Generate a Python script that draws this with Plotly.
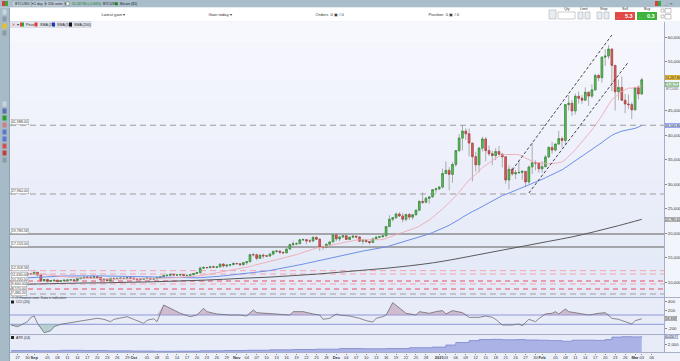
import plotly.graph_objects as go
import pandas as pd

# ---------------- DATA ----------------
start_date = "2020-08-26"
first_open = 11366
closes = [
    11478, 11324, 11543, 11507, 11712, 11680,
    11970, 11415, 10245, 10512, 10169, 10281, 10370, 10131, 10242, 10363, 10400, 10442, 10324, 10680, 10796,
    10974, 10948, 10944, 11094, 10938, 10462, 10538, 10246, 10760, 10692, 10750, 10775, 10709, 10844, 10785,
    10620, 10585, 10566, 10680, 10797, 10603, 10668, 10915, 11065, 11297, 11385, 11555, 11426, 11430, 11505,
    11323, 11359, 11484, 11742, 11917, 12823, 12965, 12931, 13108, 13031, 13075, 13654, 13272, 13437, 13546, 13781,
    13737, 13550, 13950, 14133, 15579, 15565, 14833, 15479, 15332, 15290, 15701, 16276, 16317, 16068, 15955,
    16716, 17645, 17804, 17817, 18621, 18642, 18370, 18364, 19107, 18732, 17150, 17108, 17718, 18177, 19625,
    18802, 19201, 19445, 18699, 19154, 19345, 19191, 18321, 18553, 18264, 18058, 18803, 19142, 19246, 19417,
    21310, 22805, 23137, 23869, 23477, 22803, 23783, 23241, 23735, 24664, 26437, 26272, 27084, 27362, 28841, 29002,
    29374, 32127, 32782, 31971, 33992, 36824, 39371, 40797, 40254, 38356, 35566, 33922, 37316, 39187, 36825,
    36178, 35792, 36630, 36070, 35547, 30826, 33005, 32067, 32289, 32366, 32569, 30433, 33467, 34317, 34270, 33114,
    33538, 35510, 37473, 36926, 38144, 39266, 38903, 46196, 46481, 44919, 47910, 47505, 47106, 48717,
    47945, 49199, 52149, 51679, 55889, 56100, 57540, 54208, 48825, 49706, 47094, 46339, 46189, 45138,
    49631, 48378, 51268,
]
highs = [
    11530, 11570, 11545, 11600, 11720, 11770,
    12070, 11980, 11450, 10600, 10570, 10350, 10400, 10430, 10350, 10480, 10400, 10470, 10460, 10750, 10900,
    11050, 11040, 11030, 11150, 11110, 10990, 10560, 10540, 10790, 10770, 10780, 10800, 10950, 10860, 10850,
    10900, 10630, 10600, 10690, 10800, 10800, 10680, 10940, 11100, 11470, 11430, 11700, 11560, 11550, 11540,
    11530, 11380, 11490, 11800, 12000, 13180, 13200, 13020, 13150, 13330, 13240, 13760, 13840, 13610, 13650, 14030,
    13860, 13810, 14070, 14230, 15740, 15950, 15770, 15650, 15790, 15460, 15950, 16320, 16480, 16320, 16120,
    16840, 17800, 18390, 18100, 18800, 18910, 18680, 18750, 19350, 19400, 18900, 17420, 17840, 18280, 19800,
    19920, 19300, 19560, 19500, 19160, 19400, 19390, 19280, 18630, 18560, 18270, 18930, 19380, 19300, 19530,
    21460, 23640, 23240, 24170, 24260, 24060, 23820, 24080, 23770, 24710, 26720, 28290, 27390, 27370, 28940, 29240,
    29600, 33150, 34600, 33440, 34440, 36880, 40180, 41950, 41380, 41340, 38350, 36600, 37600, 39670, 39580,
    37850, 36800, 37300, 37760, 36350, 35550, 33790, 33420, 32900, 34800, 32850, 32550, 33780, 38410, 34830, 34290,
    34640, 35900, 37660, 38590, 38250, 40850, 39700, 46200, 48140, 47150, 48460, 48870, 48140, 49700,
    48880, 50340, 52530, 52500, 56080, 57500, 58350, 57600, 54250, 51290, 51950, 48370, 48250, 46710,
    49780, 50130, 51700,
]
lows = [
    11287, 11185, 11290, 11450, 11480, 11600,
    11660, 11230, 10180, 10040, 9900, 10070, 9980, 9900, 10000, 10200, 10200, 10350, 10250, 10300, 10650,
    10670, 10800, 10820, 10900, 10800, 10380, 10400, 10200, 10210, 10600, 10670, 10650, 10680, 10650, 10700,
    10550, 10420, 10530, 10530, 10620, 10530, 10570, 10560, 10850, 11050, 11280, 11200, 11300, 11300, 11280,
    11230, 11290, 11350, 11420, 11690, 11900, 12700, 12750, 12900, 12900, 12800, 13060, 12950, 12980, 13130, 13460,
    13620, 13250, 13300, 13530, 14100, 15200, 14420, 14740, 14800, 15080, 15270, 15450, 15950, 15710, 15800,
    15900, 16570, 17340, 17510, 17760, 18440, 17700, 18020, 18150, 18570, 16350, 16530, 16880, 17570, 18170,
    18330, 18350, 18960, 18620, 18600, 18930, 18900, 18260, 17650, 17960, 17620, 18010, 18740, 19000, 19080,
    19300, 21230, 22350, 22830, 23250, 22160, 22350, 22720, 22700, 23460, 24520, 25920, 26100, 25990, 27240, 28200,
    28800, 29090, 32050, 28720, 30220, 33510, 36490, 36830, 38980, 35630, 30550, 32530, 32380, 36610, 34660,
    35710, 33850, 34880, 35900, 33400, 30070, 28950, 31680, 30990, 32090, 30840, 29370, 30020, 32060, 32810, 32300,
    32300, 33420, 35360, 36170, 36660, 38140, 37450, 38080, 45000, 43880, 44190, 46420, 46350, 47050,
    45960, 47530, 49070, 50970, 50700, 54100, 55500, 48970, 45000, 47100, 47090, 44450, 45300, 43240,
    45050, 47250, 48150,
]
# closes before the visible window (for the 20/50-day averages)
prior_start = "2020-07-07"
prior_closes = [
    9252, 9428, 9277, 9278, 9240, 9276, 9243, 9243, 9192, 9132, 9151, 9159, 9186, 9165, 9374, 9525, 9581, 9536,
    9677, 9905, 10990, 10913, 11100, 11111, 11323,
    11759, 11053, 11247, 11205, 11747, 11779, 11601, 11754, 11675, 11878, 11411, 11584, 11784, 11769, 11865,
    11893, 12254, 11991, 11758, 11878, 11592, 11681, 11665, 11774, 11366,
]
sma200_dates = ["2020-08-26", "2020-09-02", "2020-09-09", "2020-09-16", "2020-09-23", "2020-09-30",
                "2020-10-07", "2020-10-14", "2020-10-21", "2020-10-28", "2020-11-04", "2020-11-11",
                "2020-11-18", "2020-11-25", "2020-12-02", "2020-12-09", "2020-12-16", "2020-12-23",
                "2020-12-30", "2021-01-06", "2021-01-13", "2021-01-20", "2021-01-27", "2021-02-03",
                "2021-02-10", "2021-02-17", "2021-02-24", "2021-03-03"]
sma200_values = [9500, 9600, 9700, 9800, 9850, 9950, 10050, 10200, 10350, 10550, 10800, 11000, 11300, 11600,
                 12000, 12400, 12800, 13300, 13900, 14700, 15600, 16500, 17400, 18300, 19200, 20300, 21500, 22786]

cci_dates = ["2020-08-25", "2020-08-27", "2020-08-28", "2020-08-30", "2020-08-31", "2020-09-01", "2020-09-02",
             "2020-09-03", "2020-09-04", "2020-09-06", "2020-09-07", "2020-09-09", "2020-09-12", "2020-09-15",
             "2020-09-18", "2020-09-20", "2020-09-22", "2020-09-24", "2020-09-25", "2020-09-29", "2020-10-01",
             "2020-10-04", "2020-10-05", "2020-10-07", "2020-10-08", "2020-10-10", "2020-10-15", "2020-10-18",
             "2020-10-20", "2020-10-22", "2020-10-23", "2020-10-26", "2020-10-30", "2020-11-02", "2020-11-04",
             "2020-11-06", "2020-11-07", "2020-11-10", "2020-11-14", "2020-11-17", "2020-11-18", "2020-11-21",
             "2020-11-24", "2020-11-26", "2020-11-27", "2020-11-29", "2020-12-01", "2020-12-02", "2020-12-05",
             "2020-12-08", "2020-12-10", "2020-12-12", "2020-12-13", "2020-12-15", "2020-12-16", "2020-12-18",
             "2020-12-22", "2020-12-24", "2020-12-25", "2020-12-26", "2020-12-29", "2020-12-31", "2021-01-02",
             "2021-01-03", "2021-01-05", "2021-01-08", "2021-01-10", "2021-01-13", "2021-01-15", "2021-01-17",
             "2021-01-18", "2021-01-20", "2021-01-23", "2021-01-25", "2021-01-26", "2021-01-28", "2021-01-30",
             "2021-01-31", "2021-02-02", "2021-02-04", "2021-02-05", "2021-02-06", "2021-02-08", "2021-02-09",
             "2021-02-11", "2021-02-14", "2021-02-15", "2021-02-18", "2021-02-20", "2021-02-22", "2021-02-24",
             "2021-02-26", "2021-02-28", "2021-03-01", "2021-03-03"]
cci_values = [-115, -150, -115, -43, 50, 78, -80, -186, -280, -237, -150, -100, -65, -29, 7, 29, 7, -43, 7, 64,
              7, -80, -14, 20, -43, 315, 136, 64, 100, 243, 172, 122, 100, 100, 78, 208, 150, 136, 122, 100,
              172, 172, 122, 100, 7, 29, 122, 100, 78, 29, -22, -50, 29, 64, 100, 365, 136, 122, 100, 172,
              136, 172, 194, 122, 194, 150, 50, 50, 78, 50, 7, -115, -115, -93, -130, 7, -43, 22, 122, 136,
              172, 122, 229, 172, 150, 122, 100, 136, 150, 29, 7, -43, -93, -22, 18]

atr_dates = ["2020-08-25", "2020-09-02", "2020-09-09", "2020-09-16", "2020-09-23", "2020-09-30", "2020-10-07",
             "2020-10-14", "2020-10-21", "2020-10-28", "2020-11-04", "2020-11-11", "2020-11-18", "2020-11-25",
             "2020-12-02", "2020-12-09", "2020-12-16", "2020-12-23", "2020-12-30", "2021-01-03", "2021-01-06",
             "2021-01-10", "2021-01-13", "2021-01-17", "2021-01-20", "2021-01-24", "2021-01-27", "2021-01-31",
             "2021-02-03", "2021-02-07", "2021-02-10", "2021-02-14", "2021-02-17", "2021-02-20", "2021-02-22",
             "2021-02-25", "2021-02-28", "2021-03-03"]
atr_values = [450, 430, 520, 470, 400, 360, 300, 330, 420, 480, 540, 640, 720, 800, 950, 900, 950, 1150, 1300,
              1800, 2400, 2850, 3100, 3150, 3050, 3100, 3000, 2950, 2850, 2700, 2950, 2950, 2900, 3100, 3700,
              3800, 3750, 4000]

channel_upper_dates = ["2021-01-23", "2021-02-22"]
channel_upper_values = [32860, 60400]
channel_lower_dates = ["2021-01-28", "2021-02-27"]
channel_lower_values = [28160, 54900]

level_values = [41988, 27960, 19790, 17150, 12318, 11630, 10200, 9600, 8570, 7550]
level_labels = ["41,988.00", "27,960.00", "19,783.58", "17,153.00", "12,318.58", "11,630.00",
                "10,200.00", "9,600.00", "8,570.00", "7,480.20"]
level_kinds = ["gray", "gray", "solid", "solid", "pink", "pink", "red", "pink", "red", "gray"]

tick_dates = ["2020-08-27", "2020-08-30",
              "2020-09-01", "2020-09-05", "2020-09-08", "2020-09-11", "2020-09-14", "2020-09-17", "2020-09-20",
              "2020-09-23", "2020-09-26", "2020-09-29",
              "2020-10-01", "2020-10-05", "2020-10-08", "2020-10-11", "2020-10-14", "2020-10-17", "2020-10-20",
              "2020-10-23", "2020-10-26", "2020-10-29",
              "2020-11-01", "2020-11-04", "2020-11-07", "2020-11-10", "2020-11-13", "2020-11-16", "2020-11-19",
              "2020-11-22", "2020-11-25", "2020-11-28",
              "2020-12-01", "2020-12-04", "2020-12-07", "2020-12-10", "2020-12-13", "2020-12-16", "2020-12-19",
              "2020-12-22", "2020-12-25", "2020-12-28",
              "2021-01-01", "2021-01-03", "2021-01-06", "2021-01-09", "2021-01-12", "2021-01-15", "2021-01-18",
              "2021-01-21", "2021-01-24", "2021-01-27", "2021-01-30",
              "2021-02-01", "2021-02-05", "2021-02-08", "2021-02-11", "2021-02-14", "2021-02-17", "2021-02-20",
              "2021-02-23", "2021-02-26",
              "2021-03-01", "2021-03-03", "2021-03-06"]
tick_labels = ["27", "30",
               "<b>Sep</b>", "05", "08", "11", "14", "17", "20", "23", "26", "29",
               "<b>Oct</b>", "05", "08", "11", "14", "17", "20", "23", "26", "29",
               "<b>Nov</b>", "04", "07", "10", "13", "16", "19", "22", "25", "28",
               "<b>Dec</b>", "04", "07", "10", "13", "16", "19", "22", "25", "28",
               "<b>2021</b>", "03", "06", "09", "12", "15", "18", "21", "24", "27", "30",
               "<b>Feb</b>", "05", "08", "11", "14", "17", "20", "23", "26",
               "<b>Mar</b>", "03", "06"]

# 50,000 is hidden behind the live-price boxes in the reference
price_ticks = [10000, 15000, 20000, 25000, 30000, 35000, 40000, 45000, 55000, 60000]
cci_ticks = [400, 200, -200]
atr_ticks = [2000]

# ---------------- GEOMETRY HELPERS ----------------
W, H = 680, 361
def px(x):
    return x / W
def py(y):
    return 1 - y / H

FONT = "Liberation Sans, Arial, sans-serif"
shapes = []
annotations = []

def rect(x0, y0, x1, y1, fill, line_color=None, lw=0, layer="above"):
    shapes.append(dict(type="rect", xref="paper", yref="paper", x0=px(x0), x1=px(x1),
                       y0=py(y1), y1=py(y0), fillcolor=fill,
                       line=dict(color=line_color or fill, width=lw), layer=layer))

def hline_px(x0, x1, y, color, width=1, dash="solid", layer="above"):
    shapes.append(dict(type="line", xref="paper", yref="paper", x0=px(x0), x1=px(x1),
                       y0=py(y), y1=py(y), line=dict(color=color, width=width, dash=dash), layer=layer))

def text(x, y, s, size=4.5, color="#333", xanchor="left", bg=None, border=None, pad=0.5):
    a = dict(xref="paper", yref="paper", x=px(x), y=py(y), text=s, showarrow=False,
             xanchor=xanchor, yanchor="middle", font=dict(family=FONT, size=size, color=color),
             borderpad=pad)
    if bg:
        a["bgcolor"] = bg
    if border:
        a["bordercolor"] = border
        a["borderwidth"] = 0.5
    annotations.append(a)

# ---------------- TRACES ----------------
dates = pd.date_range(start_date, periods=len(closes), freq="D")
opens = [first_open] + closes[:-1]
body_hi = [max(o, c) for o, c in zip(opens, closes)]
body_lo = [min(o, c) for o, c in zip(opens, closes)]

all_closes = pd.Series(prior_closes + closes,
                       index=pd.date_range(prior_start, periods=len(prior_closes) + len(closes), freq="D"))
sma20 = all_closes.rolling(20).mean().loc[dates]
sma50 = all_closes.rolling(50).mean().loc[dates]

fig = go.Figure()

fig.add_trace(go.Scatter(x=sma200_dates, y=sma200_values, mode="lines", line=dict(color="#5a5a5a", width=1),
                         line_shape="spline", hoverinfo="skip"))
fig.add_trace(go.Scatter(x=dates, y=sma50, mode="lines", line=dict(color="#6e8fe8", width=1), hoverinfo="skip"))
fig.add_trace(go.Scatter(x=dates, y=sma20, mode="lines", line=dict(color="#eeaab2", width=0.9), hoverinfo="skip"))

# wicks (grey)
fig.add_trace(go.Candlestick(x=dates, open=opens, high=highs, low=lows, close=closes,
                             increasing=dict(line=dict(color="#9b9b9b", width=0.8), fillcolor="#9b9b9b"),
                             decreasing=dict(line=dict(color="#9b9b9b", width=0.8), fillcolor="#9b9b9b"),
                             whiskerwidth=0, hoverinfo="skip"))
# bodies (coloured)
fig.add_trace(go.Candlestick(x=dates, open=opens, high=body_hi, low=body_lo, close=closes,
                             increasing=dict(line=dict(color="#2e8a2e", width=0.6), fillcolor="#5cc65c"),
                             decreasing=dict(line=dict(color="#b03a3a", width=0.6), fillcolor="#e25c5c"),
                             whiskerwidth=0, hoverinfo="skip"))

for dts, vals in ((channel_upper_dates, channel_upper_values), (channel_lower_dates, channel_lower_values)):
    fig.add_trace(go.Scatter(x=dts, y=vals, mode="lines", line=dict(color="#333333", width=0.9, dash="3px,2px"),
                             hoverinfo="skip"))

# CCI panel
cci_hi = [max(v, 100) for v in cci_values]
cci_lo = [min(v, -100) for v in cci_values]
fig.add_trace(go.Scatter(x=cci_dates, y=[100] * len(cci_dates), yaxis="y2", mode="lines",
                         line=dict(width=0, color="rgba(0,0,0,0)"), hoverinfo="skip"))
fig.add_trace(go.Scatter(x=cci_dates, y=cci_hi, yaxis="y2", mode="lines", fill="tonexty",
                         fillcolor="rgba(185,150,175,0.55)", line=dict(width=0, color="rgba(0,0,0,0)"),
                         hoverinfo="skip"))
fig.add_trace(go.Scatter(x=cci_dates, y=[-100] * len(cci_dates), yaxis="y2", mode="lines",
                         line=dict(width=0, color="rgba(0,0,0,0)"), hoverinfo="skip"))
fig.add_trace(go.Scatter(x=cci_dates, y=cci_lo, yaxis="y2", mode="lines", fill="tonexty",
                         fillcolor="rgba(140,185,175,0.55)", line=dict(width=0, color="rgba(0,0,0,0)"),
                         hoverinfo="skip"))
fig.add_trace(go.Scatter(x=cci_dates, y=cci_values, yaxis="y2", mode="lines",
                         line=dict(color="#6d6d6d", width=0.8), hoverinfo="skip"))

# ATR panel
fig.add_trace(go.Scatter(x=atr_dates, y=atr_values, yaxis="y3", mode="lines", fill="tozeroy",
                         fillcolor="#aab2e6", line=dict(color="#7c86cc", width=0.8), line_shape="hv",
                         hoverinfo="skip"))

# ---------------- BACKGROUND / LEVELS ----------------
top_c = (247, 248, 254)
bot_c = (228, 233, 248)
n = 14
for i in range(n):
    t = i / (n - 1)
    c = tuple(int(top_c[k] + (bot_c[k] - top_c[k]) * t) for k in range(3))
    y0 = 22 + (297 - 22) * i / n
    y1 = 22 + (297 - 22) * (i + 1) / n + 0.5
    rect(10, y0, 664, y1, "rgb(%d,%d,%d)" % c, layer="below")

styles = {
    "gray": dict(color="#9c9c9c", width=1, dash="6px,4px"),
    "solid": dict(color="#8e8e8e", width=1.4, dash="solid"),
    "pink": dict(color="#f2a4ac", width=1, dash="6px,4px"),
    "red": dict(color="#e8505e", width=1.1, dash="5px,4px"),
}
for v, kind in zip(level_values, level_kinds):
    shapes.append(dict(type="line", xref="paper", yref="y", x0=px(10), x1=px(664), y0=v, y1=v,
                       line=styles[kind], layer="below"))

for v in (100, -100):
    shapes.append(dict(type="line", xref="paper", yref="y2", x0=px(10), x1=px(664), y0=v, y1=v,
                       line=dict(color="#8d96da", width=1), layer="below"))

label_y_px = {41988: 122, 27960: 191, 19790: 231, 17150: 244, 12318: 268, 11630: 274.5,
              10200: 279.5, 9600: 284, 8570: 288.5, 7550: 293}
for v, lab in zip(level_values, level_labels):
    text(11, label_y_px[v], lab, size=3.6, color="#333", bg="#ffffff", border="#999999", pad=0.3)

# ---------------- CHROME ----------------
hline_px(9, 680, 297.5, "#a7afc8", 1)
hline_px(9, 680, 334.5, "#a7afc8", 1)
hline_px(9, 680, 352.5, "#a7afc8", 1)
rect(9, 353, 680, 361, "#eef1fa", layer="below")

# top bar
rect(0, 0, 680, 7.5, "#a9bdcb")
rect(2, 1, 5, 6, "#d84040")
rect(5, 1, 8, 6, "#3aa83a")
for x0, x1 in ((12, 31), (31.5, 45), (45.5, 64)):
    rect(x0, 1, x1, 7, "#bccbd6", "#95a9b7", 0.5)
text(14, 4, "BTCUSD ✕", size=3.6, color="#222", pad=0)
text(33, 4, "1 day ✕", size=3.6, color="#222", pad=0)
text(47, 4, "200 units ✕", size=3.6, color="#222", pad=0)
rect(65.5, 2, 69, 5.5, "#ffffff", "#777777", 0.5)
text(70.5, 4, "51,267.80 (+5.66%)", size=3.3, color="#137a13", pad=0)
text(102, 4, "BTCUSD", size=3.4, color="#222", pad=0)
rect(115, 2.3, 118, 5.3, "#27a327")
text(119, 4, "Bitcoin ($1)", size=3.4, color="#222", pad=0)
rect(655, 1, 658, 6, "#d84040")
rect(658, 1, 661, 6, "#3aa83a")
text(663, 3.5, "_ ▫ ✕", size=3.4, color="#333", pad=0)

# header strip
rect(9, 7.5, 680, 21, "#ffffff")
text(100, 14.5, "Latest gain ▾", size=4.2, color="#333")
text(207, 14.5, "Gain today ▾", size=4.2, color="#333")
text(314, 14.5, "Orders  0 ▣ / 0", size=4.2, color="#333")
text(427, 14.5, "Position  0 ▣ / 0", size=4.2, color="#333")
rect(549, 10, 556, 19, "#e9edf0", "#9aa6b0", 0.5)
text(567, 9.5, "Qty", size=3.6, color="#333", xanchor="center", pad=0)
rect(558, 12, 575, 19, "#ffffff", "#9a9a9a", 0.5)
text(584, 9.5, "Limit", size=3.6, color="#333", xanchor="center", pad=0)
rect(578, 12, 583, 19, "#e8ecf0", "#9aa6b0", 0.5)
rect(585, 12, 590, 19, "#e8ecf0", "#9aa6b0", 0.5)
text(603, 9.5, "Stop", size=3.6, color="#333", xanchor="center", pad=0)
rect(597, 12, 602, 19, "#e8ecf0", "#9aa6b0", 0.5)
rect(604, 12, 609, 19, "#e8ecf0", "#9aa6b0", 0.5)
text(625, 9.3, "Sell", size=3.6, color="#333", xanchor="center", pad=0)
rect(615, 12, 635, 20, "#e24848")
text(634, 16, "<b>5.3</b>", size=5.5, color="#ffffff", xanchor="right", pad=0)
text(616, 16.5, "- -", size=3, color="#ffe0e0", pad=0)
text(647, 9.3, "Buy", size=3.6, color="#333", xanchor="center", pad=0)
rect(637, 12, 657, 20, "#3cb43c")
text(656, 16, "<b>0.3</b>", size=5.5, color="#ffffff", xanchor="right", pad=0)
text(638, 16.5, "- -", size=3, color="#e0ffe0", pad=0)
rect(661, 9, 664, 12, "#ffffff", "#888888", 0.5)
rect(661, 15, 664, 18, "#ffffff", "#888888", 0.5)
rect(665, 8.5, 671, 13, "#ffffff", "#888888", 0.5)
rect(665, 14.5, 671, 19, "#ffffff", "#888888", 0.5)

# left toolbar
rect(0, 7.5, 9, 361, "#a6bac7")
shapes.append(dict(type="line", xref="paper", yref="paper", x0=px(9.5), x1=px(9.5), y0=0, y1=py(7.5),
                   line=dict(color="#8ea3b1", width=1)))
for (y, c) in ((12, "#c9d5dd"), (19, "#8b9aa5"), (26, "#e8c020"), (33, "#8b9aa5"),
               (104, "#c9d5dd"), (111, "#5b6fb0"), (118, "#2aa02a"), (125, "#c98080"),
               (132, "#5b78c8"), (139, "#5b78c8"), (146, "#d05050"), (153, "#c04040"), (160, "#8b9aa5")):
    rect(2.5, y - 2.5, 6.5, y + 2.5, c)

# legend row
rect(10, 21.5, 91, 27.5, "#e2e5ee", "#c8ccd8", 0.5)
text(11, 24.5, "✕", size=3.6, color="#d03030", pad=0)
text(15.5, 24.5, "▾", size=3.6, color="#333", pad=0)
rect(20, 22.5, 22, 26.5, "#d44")
rect(22, 22.5, 24, 26.5, "#3a3")
text(25, 24.5, "Price", size=3.6, color="#222", pad=0)
rect(34.5, 22.5, 37.5, 26.5, "#e33")
text(38.5, 24.5, "SMA (20)", size=3.6, color="#222", pad=0)
rect(52, 22.5, 55, 26.5, "#1f3ff0")
text(56, 24.5, "SMA (50)", size=3.6, color="#222", pad=0)
rect(69, 22.5, 72, 26.5, "#111")
text(73, 24.5, "SMA (200)", size=3.6, color="#222", pad=0)

# lower panel titles
text(11, 297.8, "© IT-Finance.com. Data is indicative", size=3.4, color="#444", pad=0)
rect(11, 300.5, 14, 303.5, "#222")
text(15, 302, "CCI (20)", size=3.6, color="#222", pad=0)
rect(11, 336, 14, 339, "#222")
text(15, 337.5, "ATR (14)", size=3.6, color="#222", pad=0)

# right axis value boxes
text(664.5, 78, "51,267.80", size=3.3, color="#222", bg="#f1c33d", border="#b58d10", pad=0.2)
text(664.5, 84, "13:46:21", size=3.1, color="#1c6b1c", bg="#eef8ee", border="#3a9a3a", pad=0.2)
text(664.5, 89, "BTCUSD", size=3.0, color="#555", pad=0)
text(664.5, 125, "41,545.80", size=3.3, color="#222", bg="#d2dcfb", border="#5a6ff0", pad=0.2)
text(664.5, 220, "22,785.62", size=3.3, color="#222", bg="#e6e6e6", border="#777777", pad=0.2)
text(664.5, 318, "18.338", size=3.3, color="#222", bg="#e6e6e6", border="#777777", pad=0.2)
text(664.5, 336, "4,024.7", size=3.3, color="#222", bg="#e3e5f4", border="#7c86cc", pad=0.2)

# ---------------- LAYOUT ----------------
axis_common = dict(side="right", showgrid=False, zeroline=False, showline=True, linecolor="#a7afc8",
                   linewidth=1, ticks="outside", ticklen=2, tickcolor="#888888", automargin=False,
                   ticklabeloverflow="allow",
                   tickfont=dict(family=FONT, size=4.3, color="#333"), fixedrange=True)

fig.update_layout(
    template="none",
    width=W, height=H, margin=dict(l=0, r=0, t=0, b=0, pad=0, autoexpand=False),
    paper_bgcolor="#f3f5fc", plot_bgcolor="#e8ecf9",
    showlegend=False, hovermode=False,
    font=dict(family=FONT, size=5, color="#333"),
    xaxis=dict(domain=[px(10), px(664)], range=["2020-08-24 17:00", "2021-03-09 17:00"], anchor="y3",
               rangeslider=dict(visible=False), showgrid=False, zeroline=False, showline=False,
               tickmode="array", tickvals=tick_dates, ticktext=tick_labels, tickangle=0,
               ticks="outside", ticklen=1, tickcolor="#888888", automargin=False,
               ticklabeloverflow="allow", ticklabelstandoff=0,
               tickfont=dict(family=FONT, size=4.0, color="#333"), fixedrange=True),
    yaxis=dict(domain=[py(297), py(22)], range=[6939, 63061], tickmode="array", tickvals=price_ticks,
               ticktext=["{:,}".format(v) for v in price_ticks], anchor="x", **axis_common),
    yaxis2=dict(domain=[py(334), py(298)], range=[-308, 465], tickmode="array", tickvals=cci_ticks,
                ticktext=[str(v) for v in cci_ticks], anchor="x", **axis_common),
    yaxis3=dict(domain=[py(352.5), py(335)], range=[0, 4200], tickmode="array", tickvals=atr_ticks,
                ticktext=["{:,}".format(v) for v in atr_ticks], anchor="x", **axis_common),
    shapes=shapes, annotations=annotations,
)

fig.write_html("out.html", config={"displayModeBar": False},
               post_script="document.body.style.margin='0px';document.body.style.padding='0px';")
